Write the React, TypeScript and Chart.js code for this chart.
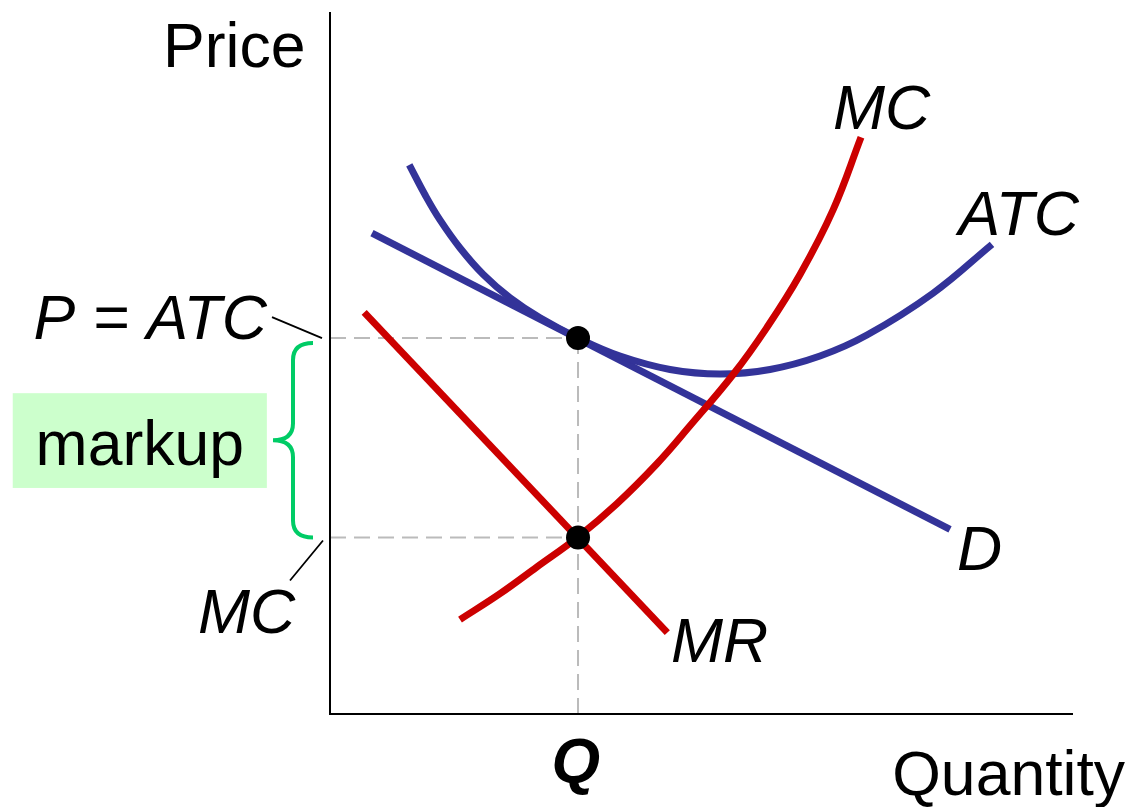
import React, { useEffect, useRef } from "react";
import { Chart, registerables } from "chart.js";

Chart.register(...registerables);

// Axis ranges (arbitrary units)
const quantityRange = [0, 100];
const priceRange = [0, 100];

// Average total cost curve
const atcQ = [10.67, 12.79, 14.8, 17.5, 20.63, 24.23, 28.26, 33.38, 39.03, 45.76, 52.49, 59.22, 65.95, 72.27, 81.16, 89.1];
const atcP = [78.22, 73.96, 70.38, 66.38, 62.6, 59.28, 56.43, 53.55, 50.99, 49.08, 48.44, 49.08, 50.99, 53.98, 59.94, 66.9];

// Demand (straight line)
const demandQ = [5.65, 83.45];
const demandP = [68.5, 26.3];

// Marginal revenue (straight line)
const mrQ = [4.6, 45.4];
const mrP = [57.2, 11.6];

// Marginal cost curve
const mcQ = [17.5, 22.88, 27.82, 33.34, 38.59, 43.97, 48.45, 54.28, 58.77, 63.26, 67.74, 71.47];
const mcP = [13.45, 17.14, 20.92, 25.18, 29.93, 35.61, 41.05, 48.4, 55.01, 62.6, 71.88, 82.15];

// Equilibrium
const eqQ = 33.38;
const eqPrice = 53.55;
const eqMC = 25.14;

const BLUE = "#333399";
const RED = "#cc0000";
const GRAY = "#bbbbbb";
const GREEN = "#00cc66";
const FONT = '"Liberation Sans", Arial, sans-serif';
const FONT_SIZE = 62.5;

const pts = (xs: number[], ys: number[]) => xs.map((x, i) => ({ x, y: ys[i] }));

type Label = { text: string; x: number; y: number; align: CanvasTextAlign; style: string };
const labels: Label[] = [
  { text: "Price", x: -3.3, y: 92.2, align: "right", style: "" },
  { text: "Quantity", x: 107.0, y: -11.6, align: "right", style: "" },
  { text: "Q", x: eqQ - 0.3, y: -9.7, align: "center", style: "bold italic " },
  { text: "MC", x: 67.7, y: 83.4, align: "left", style: "italic " },
  { text: "ATC", x: 84.6, y: 68.3, align: "left", style: "italic " },
  { text: "D", x: 84.4, y: 20.5, align: "left", style: "italic " },
  { text: "MR", x: 45.9, y: 7.4, align: "left", style: "italic " },
  { text: "P = ATC", x: -8.5, y: 53.4, align: "right", style: "italic " },
  { text: "MC", x: -4.7, y: 11.6, align: "right", style: "italic " },
];

const annotationPlugin = {
  id: "annot",
  beforeDatasetsDraw(chart: any) {
    const ctx = chart.ctx as CanvasRenderingContext2D;
    const xs = chart.scales.x;
    const ys = chart.scales.y;
    // markup box
    const bx0 = xs.getPixelForValue(-42.7);
    const bx1 = xs.getPixelForValue(-8.5);
    const by0 = ys.getPixelForValue(45.7);
    const by1 = ys.getPixelForValue(32.2);
    ctx.save();
    ctx.fillStyle = "#ccffcc";
    ctx.fillRect(bx0, by0, bx1 - bx0, by1 - by0);
    ctx.restore();
  },
  afterDatasetsDraw(chart: any) {
    const ctx = chart.ctx as CanvasRenderingContext2D;
    const xs = chart.scales.x;
    const ys = chart.scales.y;
    const ca = chart.chartArea;
    ctx.save();
    // axes
    ctx.strokeStyle = "#000";
    ctx.lineWidth = 2;
    ctx.beginPath();
    ctx.moveTo(ca.left, ca.top);
    ctx.lineTo(ca.left, ca.bottom);
    ctx.lineTo(ca.right, ca.bottom);
    ctx.stroke();

    // leader lines
    ctx.lineWidth = 1.8;
    ctx.beginPath();
    ctx.moveTo(ca.left - 58, ys.getPixelForValue(eqPrice) - 21);
    ctx.lineTo(ca.left - 8, ys.getPixelForValue(eqPrice));
    ctx.moveTo(ca.left - 40, ys.getPixelForValue(eqMC) + 43);
    ctx.lineTo(ca.left - 7, ys.getPixelForValue(eqMC) + 3);
    ctx.stroke();

    // brace
    const yTop = ys.getPixelForValue(eqPrice) + 5;
    const yBot = ys.getPixelForValue(eqMC);
    const yMid = (yTop + yBot) / 2;
    const tipX = ca.left - 17;
    const stemX = ca.left - 37;
    const midX = ca.left - 57;
    const r = 17;
    ctx.strokeStyle = GREEN;
    ctx.lineWidth = 4;
    ctx.beginPath();
    ctx.moveTo(tipX, yTop);
    ctx.quadraticCurveTo(stemX, yTop, stemX, yTop + r);
    ctx.lineTo(stemX, yMid - r);
    ctx.quadraticCurveTo(stemX, yMid, midX, yMid);
    ctx.quadraticCurveTo(stemX, yMid, stemX, yMid + r);
    ctx.lineTo(stemX, yBot - r);
    ctx.quadraticCurveTo(stemX, yBot, tipX, yBot);
    ctx.stroke();

    // texts
    ctx.fillStyle = "#000";
    ctx.textBaseline = "alphabetic";
    for (const l of labels) {
      ctx.font = `${l.style}${FONT_SIZE}px ${FONT}`;
      ctx.textAlign = l.align;
      ctx.fillText(l.text, xs.getPixelForValue(l.x), ys.getPixelForValue(l.y));
    }
    ctx.font = `${FONT_SIZE}px ${FONT}`;
    ctx.textAlign = "center";
    ctx.fillText("markup", xs.getPixelForValue(-25.6), ys.getPixelForValue(35.4));
    ctx.restore();
  },
};

export default function App() {
  const ref = useRef<HTMLCanvasElement>(null);
  useEffect(() => {
    if (!ref.current) return;
    const lineDs = (label: string, data: any[], color: string, order: number, extra: any = {}) => ({
      label,
      data,
      borderColor: color,
      backgroundColor: color,
      borderWidth: 7,
      pointRadius: 0,
      fill: false,
      order,
      borderCapStyle: "butt",
      ...extra,
    });
    const dashed = (data: any[]) => ({
      label: "guide",
      data,
      borderColor: GRAY,
      borderWidth: 2,
      borderDash: [16, 8],
      pointRadius: 0,
      fill: false,
      order: 20,
    });
    const chart = new Chart(ref.current, {
      type: "line",
      data: {
        datasets: [
          {
            label: "equilibrium",
            data: [
              { x: eqQ, y: eqPrice },
              { x: eqQ, y: eqMC },
            ],
            showLine: false,
            pointRadius: 12,
            pointBackgroundColor: "#000",
            pointBorderWidth: 0,
            order: 0,
          } as any,
          lineDs("MC", pts(mcQ, mcP), RED, 1, { tension: 0.4 }),
          lineDs("MR", pts(mrQ, mrP), RED, 2),
          lineDs("ATC", pts(atcQ, atcP), BLUE, 3, { tension: 0.4 }),
          lineDs("D", pts(demandQ, demandP), BLUE, 4),
          dashed([
            { x: 0, y: eqPrice },
            { x: eqQ, y: eqPrice },
          ]),
          dashed([
            { x: 0, y: eqMC },
            { x: eqQ, y: eqMC },
          ]),
          dashed([
            { x: eqQ, y: 0 },
            { x: eqQ, y: eqPrice },
          ]),
        ] as any,
      },
      options: {
        animation: false,
        responsive: false,
        devicePixelRatio: 1,
        layout: { padding: { left: 330, right: 69, top: 10, bottom: 93 } },
        plugins: { legend: { display: false }, tooltip: { enabled: false } },
        events: [],
        scales: {
          x: { type: "linear", min: quantityRange[0], max: quantityRange[1], display: false },
          y: { type: "linear", min: priceRange[0], max: priceRange[1], display: false },
        },
        clip: false as any,
      } as any,
      plugins: [annotationPlugin],
    });
    return () => chart.destroy();
  }, []);
  return (
    <div style={{ position: "absolute", left: 0, top: 0, width: 1142, height: 807, background: "#fff" }}>
      <canvas ref={ref} width={1142} height={807} />
    </div>
  );
}
